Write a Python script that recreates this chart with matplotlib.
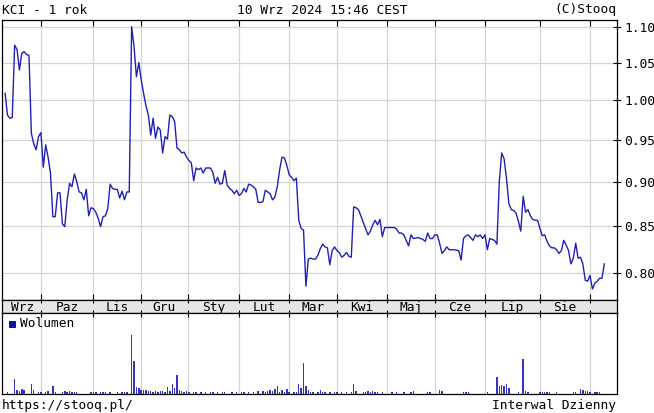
import matplotlib
matplotlib.use("Agg")
import matplotlib.pyplot as plt
from matplotlib.ticker import FixedLocator, FixedFormatter, NullLocator
from matplotlib.patches import Rectangle

# dni sesyjne od 11.09.2023 (indeks 0) do 10.09.2024
day = [0, 1, 2, 3, 4, 5, 6, 7, 8, 9, 10, 11, 12, 13, 14, 15, 16, 17, 18, 19,
       20, 21, 22, 23, 24, 25, 26, 27, 28, 29, 30, 31, 32, 33, 34, 35, 36, 37, 38, 39,
       40, 41, 42, 43, 44, 45, 46, 47, 48, 49, 50, 51, 52, 53, 54, 55, 56, 57, 58, 59,
       60, 61, 62, 63, 64, 65, 66, 67, 68, 69, 70, 71, 72, 73, 74, 75, 76, 77, 78, 79,
       80, 81, 82, 83, 84, 85, 86, 87, 88, 89, 90, 91, 92, 93, 94, 95, 96, 97, 98, 99,
       100, 101, 102, 103, 104, 105, 106, 107, 108, 109, 110, 111, 112, 113, 114, 115,
       116, 117, 118, 119, 120, 121, 122, 123, 124, 125, 126, 127, 128, 129, 130, 131,
       132, 133, 134, 135, 136, 137, 138, 139, 140, 141, 142, 143, 144, 145, 146, 147,
       148, 150, 152, 153, 154, 155, 156, 157, 158, 159, 160, 161, 162, 163, 164, 165,
       166, 167, 169, 170, 171, 173, 174, 175, 176, 177, 178, 179, 180, 181, 182, 183,
       184, 185, 186, 188, 190, 191, 192, 193, 194, 195, 196, 197, 198, 199, 200, 201,
       202, 203, 204, 205, 206, 207, 208, 209, 210, 211, 212, 213, 214, 215, 216, 217,
       218, 219, 220, 221, 222, 223, 225, 226, 227, 228, 229, 230, 231, 232, 233, 234,
       235, 236, 237, 238, 239, 240, 241, 242, 243, 244, 245, 246, 247, 248, 249, 250, 251]
close = [1.009, 0.981, 0.977, 0.978, 1.074, 1.068, 1.040, 1.063, 1.065, 1.061, 1.060, 0.958,
         0.945, 0.938, 0.954, 0.959, 0.917, 0.944, 0.929, 0.910,
         0.860, 0.860, 0.887, 0.887, 0.852, 0.849, 0.879, 0.898, 0.894, 0.909, 0.900, 0.888,
         0.887, 0.879, 0.891, 0.861, 0.870, 0.869, 0.865, 0.858,
         0.849, 0.860, 0.861, 0.869, 0.897, 0.892, 0.891, 0.891, 0.881, 0.889, 0.879, 0.888,
         0.888, 1.100, 1.072, 1.031, 1.050, 1.027, 1.009, 0.993,
         0.981, 0.956, 0.977, 0.952, 0.966, 0.962, 0.934, 0.954, 0.951, 0.981, 0.979, 0.973,
         0.940, 0.938, 0.934, 0.935, 0.929, 0.925, 0.922, 0.901,
         0.916, 0.914, 0.916, 0.910, 0.916, 0.916, 0.916, 0.911, 0.898, 0.905, 0.897, 0.898,
         0.913, 0.896, 0.892, 0.890, 0.886, 0.890, 0.884, 0.886,
         0.892, 0.888, 0.897, 0.896, 0.894, 0.891, 0.876, 0.876, 0.877, 0.890, 0.888, 0.886,
         0.879, 0.882, 0.894, 0.914,
         0.929, 0.928, 0.919, 0.908, 0.905, 0.901, 0.904, 0.856, 0.847, 0.845, 0.786, 0.814,
         0.815, 0.814, 0.814, 0.818,
         0.825, 0.830, 0.827, 0.826, 0.808, 0.823, 0.827, 0.823, 0.821, 0.816, 0.818, 0.821,
         0.817, 0.816, 0.871, 0.870,
         0.868, 0.854, 0.840, 0.844, 0.851, 0.856, 0.851, 0.857, 0.838, 0.848, 0.848, 0.848,
         0.848, 0.848, 0.846, 0.842,
         0.842, 0.840, 0.828, 0.840, 0.836, 0.837, 0.836, 0.835, 0.833, 0.842, 0.836, 0.836,
         0.840, 0.840, 0.831, 0.820,
         0.823, 0.827, 0.824, 0.824, 0.823, 0.813, 0.836, 0.839, 0.840, 0.837, 0.834, 0.840,
         0.838, 0.840, 0.836, 0.840,
         0.824, 0.836, 0.835, 0.834, 0.830, 0.900, 0.934, 0.927, 0.904, 0.875, 0.868, 0.867,
         0.864, 0.855, 0.844, 0.883,
         0.865, 0.868, 0.861, 0.857, 0.856, 0.856, 0.839, 0.840, 0.833, 0.828, 0.826, 0.826,
         0.824, 0.820, 0.823, 0.834,
         0.829, 0.823, 0.809, 0.815, 0.831, 0.815, 0.816, 0.809, 0.792, 0.791, 0.797, 0.783,
         0.789, 0.791, 0.794, 0.794, 0.809]

# wolumen (jednostki umowne), jeden na kazdy dzien 0..251
volume = [0, 15, 0, 0, 150, 40, 30, 45, 40, 0,
          0, 100, 40, 0, 20, 15, 0, 20, 30, 0,
          76, 20, 0, 0, 20, 25, 20, 25, 20, 20,
          15, 0, 0, 0, 0, 0, 15, 15, 15, 0,
          15, 15, 15, 0, 15, 0, 0, 15, 0, 15,
          15, 15, 0, 586, 330, 70, 60, 40, 40, 35,
          25, 30, 20, 25, 20, 30, 25, 20, 70, 30,
          100, 60, 186, 40, 25, 20, 25, 15, 0, 15,
          15, 0, 15, 0, 15, 0, 15, 15, 0, 15,
          0, 15, 15, 0, 0, 15, 0, 15, 0, 15,
          15, 0, 15, 0, 15, 0, 30, 0, 30, 20,
          30, 40, 30, 50, 76, 20, 40, 20, 50, 15,
          0, 20, 20, 100, 60, 310, 80, 40, 20, 15,
          0, 20, 40, 15, 15, 0, 15, 0, 15, 15,
          0, 15, 0, 15, 0, 15, 100, 30, 0, 0,
          15, 20, 30, 20, 25, 20, 15, 0, 15, 0,
          0, 0, 15, 0, 15, 0, 0, 15, 0, 0,
          15, 30, 0, 0, 0, 0, 0, 15, 15, 0,
          0, 0, 40, 30, 0, 0, 0, 0, 0, 0,
          0, 0, 15, 15, 15, 0, 0, 0, 0, 0,
          0, 0, 15, 0, 0, 0, 166, 80, 90, 80,
          100, 60, 0, 0, 0, 15, 0, 350, 30, 15,
          0, 0, 0, 0, 15, 15, 15, 15, 15, 0,
          0, 15, 0, 0, 0, 0, 0, 0, 15, 15,
          0, 50, 40, 30, 30, 20, 0, 15, 15, 15,
          0, 0]
vol_day = list(range(len(volume)))

# poczatki miesiecy (indeks dnia) i nazwy
month_start = [15, 37, 57, 76.5, 98, 119, 139, 160, 180, 201, 224, 245]
month_names = ["Wrz", "Paz", "Lis", "Gru", "Sty", "Lut", "Mar", "Kwi", "Maj", "Cze", "Lip", "Sie"]
price_ticks = [0.80, 0.85, 0.90, 0.95, 1.00, 1.05, 1.10]

plt.rcParams['font.family'] = ['DejaVu Sans Mono']
plt.rcParams['font.size'] = 9.3

W, H = 654, 413
def box(x0, y0, x1, y1):
    return [x0 / W, 1 - y1 / H, (x1 - x0) / W, (y1 - y0) / H]

fig = plt.figure(figsize=(W / 100, H / 100), dpi=100)
ax = fig.add_axes(box(2, 20, 617, 300))
band = fig.add_axes(box(2, 300, 617, 313))
axv = fig.add_axes(box(2, 313, 617, 394))

xlim = (-1.3, 256.3)
gridc = '#d4d4d4'

# wykres ceny
ax.plot(day, close, color='#2020b8', lw=1.0)
ax.set_yscale('log')
ax.set_ylim(0.772, 1.1096)
ax.set_xlim(*xlim)
ax.yaxis.set_major_locator(FixedLocator(price_ticks))
ax.yaxis.set_major_formatter(FixedFormatter(["%.2f" % t for t in price_ticks]))
ax.yaxis.set_minor_locator(NullLocator())
ax.yaxis.tick_right()
ax.tick_params(axis='y', direction='inout', length=6, width=0.8, pad=2, colors='black')
ax.set_xticks(month_start)
ax.tick_params(axis='x', direction='in', top=True, bottom=True, labelbottom=False,
               length=4, width=0.8)
ax.grid(True, color=gridc, lw=0.9)
for s in ax.spines.values():
    s.set_linewidth(0.9)

# pasek z nazwami miesiecy
band.set_facecolor('#e6e6e6')
band.set_xlim(*xlim)
band.set_ylim(0, 1)
band.set_yticks([])
band.set_xticks(month_start)
band.tick_params(axis='x', direction='inout', top=True, bottom=True, labelbottom=False,
                 length=4, width=0.8)
edges = [0] + month_start
for i, name in enumerate(month_names):
    band.text((edges[i] + edges[i + 1]) / 2, 0.45, name, ha='center', va='center')
for s in band.spines.values():
    s.set_linewidth(0.9)

# wolumen
axv.bar(vol_day, volume, width=0.6, color='#3434c4')
axv.set_xlim(*xlim)
axv.set_ylim(0, 803)
axv.set_yticks([])
axv.set_xticks(month_start)
axv.tick_params(axis='x', direction='in', top=True, bottom=False, labelbottom=False,
                length=3, width=0.8)
axv.grid(True, axis='x', color=gridc, lw=0.9)
axv.set_axisbelow(True)
for s in axv.spines.values():
    s.set_linewidth(0.9)
axv.add_patch(Rectangle((0.012, 0.83), 0.0095, 0.07, transform=axv.transAxes,
                        facecolor='#1010b0', edgecolor='#000060', lw=0.6))
axv.text(0.029, 0.865, "Wolumen", transform=axv.transAxes, ha='left', va='center')

# napisy
fig.text(2 / W, 1 - 10 / H, "KCI - 1 rok", ha='left', va='center')
fig.text(322 / W, 1 - 10 / H, "10 Wrz 2024 15:46 CEST", ha='center', va='center')
fig.text(616 / W, 1 - 10 / H, "(C)Stooq", ha='right', va='center')
fig.text(2 / W, 1 - 405 / H, "https://stooq.pl/", ha='left', va='center')
fig.text(616 / W, 1 - 405 / H, "Interwal Dzienny", ha='right', va='center')

fig.savefig("out.png", dpi=100)
